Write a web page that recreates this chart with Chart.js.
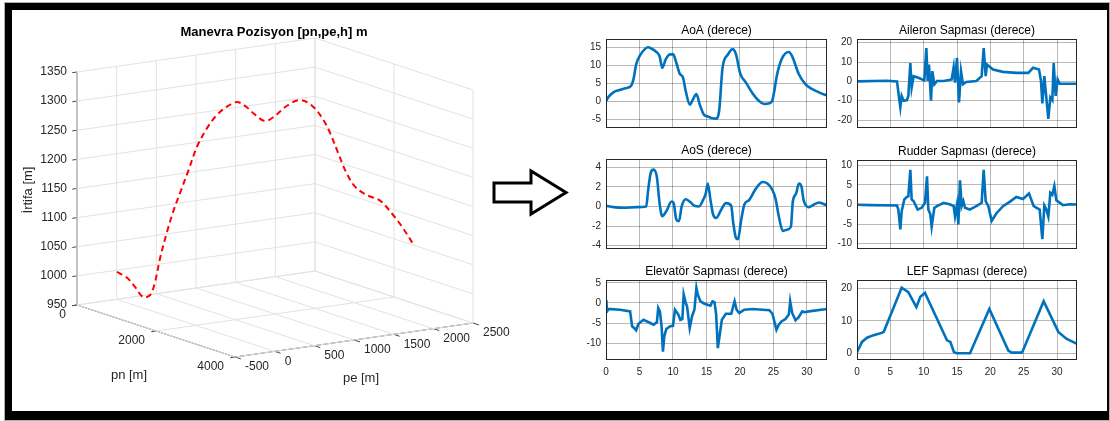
<!DOCTYPE html>
<html>
<head>
<meta charset="utf-8">
<script src="https://cdn.jsdelivr.net/npm/chart.js"></script>
<style>
  body{margin:0;background:#fff;width:1110px;height:421px;overflow:hidden;position:relative;}
  .cerceve{position:absolute;left:5px;top:3px;width:1104px;height:417px;box-sizing:border-box;
    border-style:solid;border-color:#000;border-width:7px 2px 9px 7px;box-shadow:0 0 0 1px #b0b0b0;}
  canvas{position:absolute;}
  svg{position:absolute;left:0;top:0;}
</style>
</head>
<body>
<div class="cerceve"></div>
<svg width="1110" height="421">
  <polygon points="494,183 531,183 531,171 566,192.5 531,214 531,202 494,202"
    fill="#fff" stroke="#000" stroke-width="3" stroke-linejoin="miter"/>
</svg>
<canvas id="c3d" width="520" height="411" style="left:0;top:0"></canvas>
<canvas id="aoa"></canvas>
<canvas id="ail"></canvas>
<canvas id="aos"></canvas>
<canvas id="rud"></canvas>
<canvas id="elv"></canvas>
<canvas id="lef"></canvas>
<script>
// ---- 3D manevra konumu ----
const pnData = [0,110,220,330,440,550,660,770,880,990,1100,1210,1320,1430,1540,1650,1760,1870,1980,2090,2200,2310,2420,2530,2640,2750,2860,2970,3080,3190,3300,3410,3520];
const peData = [4,76,122,168,201,210,218,251,272,306,352,410,482,553,637,695,742,813,885,955,1052,1162,1258,1330,1375,1422,1467,1526,1622,1732,1829,1912,1984];
const hData  = [997,988,974,958,963,988,1031,1078,1114,1149,1187,1231,1264,1288,1304,1312,1307,1293,1283,1293,1311,1321,1312,1292,1268,1235,1204,1180,1166,1157,1135,1111,1085];
const pnTicks = [0,2000,4000];
const peTicks = [-500,0,500,1000,1500,2000,2500];
const hTicks  = [950,1000,1050,1100,1150,1200,1250,1300,1350];

// ---- zaman serileri (s) ----
const aoaT = [0,0.4,1.1,1.9,2.9,3.7,4.1,4.5,5.1,5.8,6.3,6.8,7.6,8.0,8.4,8.9,9.5,10.0,10.5,11.0,11.5,11.9,12.5,13.0,13.5,14.0,14.6,15.2,15.7,16.45,16.9,17.4,18.2,18.9,19.4,20.05,20.9,21.9,22.9,23.6,24.4,24.85,25.6,26.3,27.3,27.8,28.8,29.8,30.8,31.8,33];
const aoaV = [0,1.3,2.5,3.1,3.65,4.2,6.1,10.2,12.8,14.5,15.0,14.6,13.6,12.5,9.3,11.6,13.0,13.1,10.7,7.7,6.6,2.9,-0.9,0.6,2.0,-0.9,-3.65,-4.2,-4.6,-4.8,-2.55,9.3,13.0,14.5,13.1,7.7,5.2,2.2,0,-0.73,-0.55,0.35,7.9,12.0,13.7,12.5,7.5,4.7,3.4,2.5,1.6];

const ailT = [0,4.5,6.0,6.3,6.5,6.7,7.0,7.5,7.7,8.0,8.2,8.5,9.2,10.1,10.4,10.6,10.8,11.1,11.3,11.6,12.0,13.0,14.2,14.5,14.7,15.0,15.3,15.6,15.9,16.4,17.9,18.7,19.0,19.3,19.5,20.4,21.9,23.9,25.7,26.4,27.3,27.6,27.8,28.1,28.3,28.7,29.0,29.3,29.5,29.8,30.1,30.4,33];
const ailV = [0,0.3,0,-8.3,-13.4,-7.5,-10,-9.7,-7.5,9.5,-3.2,2.7,1.9,0.5,17.2,0.2,8.7,-10,5.3,-1.5,0.2,0.2,1.0,7.3,-0.7,12.1,-10.9,5.3,-1.5,-0.3,0.2,2.7,17.2,2.7,8.7,6.1,4.9,4.4,4.4,7.0,6.1,0.2,-11.4,2.7,-4.9,-19.4,-8.3,-9.7,9.5,-7.5,1.0,-1.2,-1.2];

const aosT = [0,1.1,2.6,4.6,6.0,6.3,6.7,7.1,7.6,8.0,8.4,9.0,9.8,10.1,10.5,10.9,11.3,11.9,12.5,13.2,13.9,14.5,14.9,15.2,15.6,16.0,16.45,17.2,17.9,18.7,19.0,19.4,19.7,20.2,20.65,21.4,22.4,23.4,24.1,24.85,25.3,25.8,26.4,26.9,27.6,27.9,28.4,28.8,29.2,29.5,30.3,31.0,31.8,33];
const aosV = [0.07,-0.07,-0.13,-0.07,0,1.7,3.5,3.76,3.0,0.34,-1.0,-0.5,0.5,0.34,-1.34,-1.5,0,0.74,0.5,0.07,0,0.67,1.34,2.35,0.67,-0.84,-1.18,-0.34,0.34,0.07,-1.68,-3.2,-3.36,-1.34,0.17,0.67,1.85,2.5,2.35,1.68,0.84,-1.0,-2.5,-2.4,-2.1,0.5,1.34,2.35,2.0,0.67,-0.07,0.17,0.4,0.1];

const rudT = [0,2,6.0,6.2,6.5,6.7,7.1,7.5,7.7,8.0,8.2,8.5,9.1,9.7,10.2,10.5,10.7,11.0,11.2,11.6,12.0,13.0,14.0,14.5,14.7,15.0,15.2,15.45,15.7,15.95,16.2,16.9,17.9,18.7,19.0,19.3,19.7,20.2,20.9,21.9,22.9,23.9,24.9,25.8,26.5,27.4,27.8,28.1,28.4,28.7,29.0,29.3,29.6,29.9,30.9,31.9,33];
const rudV = [-0.08,-0.17,-0.25,-1.3,-6.4,-1.7,1.3,1.95,2.1,8.9,1.3,0.85,-1.3,-0.85,0.42,7.2,-1.3,-2.5,-5.7,-0.85,-0.42,0.42,0,-0.42,-3.0,0,-5.1,6.2,-0.42,0.85,-0.85,-1.3,-0.42,0.42,8.9,0.85,-0.42,-4.2,-2.3,-0.42,0.68,1.95,1.4,2.8,-0.42,-1.3,-8.9,-0.25,-1.3,-3.1,3.0,2.5,4.7,1.1,-0.17,0.08,0];

const elvT = [0,0.05,0.15,0.4,2.1,3.6,3.9,4.2,4.5,4.85,5.6,6.6,7.1,7.6,7.8,8.05,8.3,8.5,8.7,9.0,9.6,10.0,10.3,10.8,11.1,11.4,11.6,11.9,12.1,12.5,12.85,13.2,13.5,13.7,14.1,14.7,15.6,15.9,16.2,16.45,16.7,16.95,17.3,17.9,18.7,19.2,19.5,19.9,20.65,21.9,23.4,24.4,24.85,25.45,25.8,26.2,26.8,27.3,27.5,27.8,28.3,28.8,29.3,29.6,30.3,33];
const elvV = [0,0.7,-2.1,-1.5,-1.7,-2.1,-5.8,-6.25,-6.8,-5.2,-4.2,-5.0,-5.4,-4.8,-1.25,-2.1,-5.8,-12.1,-8.3,-6.5,-5.8,-5.7,-1.7,-2.9,-4.2,-4.0,2.1,0,-0.8,-6.25,-3.3,-1.7,3.75,2.1,0.4,-0.2,-0.7,0.4,0.2,-2.9,-11.25,-8.3,-4.2,-2.7,-2.7,0.4,-1.7,-2.5,-1.7,-1.5,-1.7,-1.8,-2.7,-6.7,-5.4,-4.6,-4.0,-2.9,0.4,-2.5,-4.3,-3.5,-2.1,-2.3,-2.1,-1.5];

const lefT = [0,0.75,1.5,2.5,3.7,4.0,6.7,7.7,8.9,9.5,10.2,11.0,13.5,14.0,14.55,15.0,16.95,19.85,22.7,23.2,24.7,24.9,28.0,30.2,31.4,33];
const lefV = [0.3,3.5,4.8,5.6,6.3,6.6,20.3,18.9,14.3,17.5,18.7,15.1,4.0,3.5,0.3,0,0,13.7,0.85,0.2,0.2,0.85,16.1,6.6,4.5,2.9];

const xTicks = [0,5,10,15,20,25,30];

Chart.defaults.font.family = "'Liberation Sans', Arial, sans-serif";
Chart.defaults.color = '#262626';
Chart.defaults.animation = false;

// 3D kutu izdusumu (sayfa pikseli)
const O3 = {x: 77, y: 305};
const V_PN = {x: 158, y: 52};
const V_PE = {x: 238, y: -34};
const V_H = {x: 0, y: -233};
const pnLim = [0, 4000], peLim = [-500, 2500], hLim = [950, 1350];

function P(pn, pe, h){
    let a = (pn - pnLim[0]) / (pnLim[1] - pnLim[0]);
    let b = (pe - peLim[0]) / (peLim[1] - peLim[0]);
    let c = (h - hLim[0]) / (hLim[1] - hLim[0]);
    return {x: O3.x + a*V_PN.x + b*V_PE.x + c*V_H.x,
            y: O3.y + a*V_PN.y + b*V_PE.y + c*V_H.y};
}

function cizgi(p1, p2, renk, kalinlik){
    return {data: [p1, p2], showLine: true, borderColor: renk, borderWidth: kalinlik,
            pointRadius: 0, clip: false};
}

let ds3 = [];
// yorunge
let yol = [];
for (let i = 0; i < pnData.length; i++) yol.push(P(pnData[i], peData[i], hData[i]));
ds3.push({data: yol, showLine: true, borderColor: '#ff0000', borderWidth: 2, borderDash: [6, 4],
          pointRadius: 0, tension: 0.35, clip: false});

const gri = '#e2e2e2';
// arka duvar pn=0
peTicks.forEach(v => ds3.push(cizgi(P(0, v, hLim[0]), P(0, v, hLim[1]), gri, 1)));
hTicks.forEach(v => ds3.push(cizgi(P(0, peLim[0], v), P(0, peLim[1], v), gri, 1)));
// yan duvar pe=2500
pnTicks.forEach(v => ds3.push(cizgi(P(v, peLim[1], hLim[0]), P(v, peLim[1], hLim[1]), gri, 1)));
hTicks.forEach(v => ds3.push(cizgi(P(pnLim[0], peLim[1], v), P(pnLim[1], peLim[1], v), gri, 1)));
// taban h=950
peTicks.forEach(v => ds3.push(cizgi(P(pnLim[0], v, hLim[0]), P(pnLim[1], v, hLim[0]), gri, 1)));
pnTicks.forEach(v => ds3.push(cizgi(P(v, peLim[0], hLim[0]), P(v, peLim[1], hLim[0]), gri, 1)));
// eksenler
const koyu = '#4a4a4a';
ds3.push(cizgi(P(0, peLim[0], hLim[0]), P(0, peLim[0], hLim[1]), koyu, 1));
ds3.push(cizgi(P(pnLim[0], peLim[0], hLim[0]), P(pnLim[1], peLim[0], hLim[0]), koyu, 1));
ds3.push(cizgi(P(pnLim[1], peLim[0], hLim[0]), P(pnLim[1], peLim[1], hLim[0]), koyu, 1));
hTicks.forEach(v => ds3.push(cizgi(P(0, peLim[0], v), P(0, peLim[0] - 60, v), koyu, 1)));
pnTicks.forEach(v => ds3.push(cizgi(P(v, peLim[0], hLim[0]), P(v, peLim[0] - 60, hLim[0]), koyu, 1)));
peTicks.forEach(v => ds3.push(cizgi(P(pnLim[1], v, hLim[0]), P(pnLim[1] + 150, v, hLim[0]), koyu, 1)));

const yazi3d = {
    id: 'yazi3d',
    afterDraw(chart){
        const ctx = chart.ctx, sx = chart.scales.x, sy = chart.scales.y;
        const px = p => ({x: sx.getPixelForValue(p.x), y: sy.getPixelForValue(p.y)});
        ctx.save();
        ctx.fillStyle = '#262626';
        ctx.font = "12px 'Liberation Sans', Arial";
        ctx.textBaseline = 'middle';
        ctx.textAlign = 'right';
        hTicks.forEach(v => { let q = px(P(0, peLim[0], v)); ctx.fillText(v, q.x - 10, q.y); });
        pnTicks.forEach(v => { let q = px(P(v, peLim[0], hLim[0])); ctx.fillText(v, q.x - 11, q.y + 10); });
        ctx.textAlign = 'left';
        peTicks.forEach(v => { let q = px(P(pnLim[1], v, hLim[0])); ctx.fillText(v, q.x + 10, q.y + 10); });
        ctx.textAlign = 'center';
        ctx.font = "13px 'Liberation Sans', Arial";
        ctx.fillText('pn [m]', 129, 375);
        ctx.fillText('pe [m]', 361, 378);
        ctx.save();
        ctx.translate(28, 190);
        ctx.rotate(-Math.PI / 2);
        ctx.fillText('İrtifa [m]', 0, 0);
        ctx.restore();
        ctx.fillStyle = '#000';
        ctx.font = "bold 13px 'Liberation Sans', Arial";
        ctx.fillText('Manevra Pozisyon [pn,pe,h] m', 274, 32);
        ctx.restore();
    }
};

new Chart(document.getElementById('c3d'), {
    type: 'scatter',
    data: {datasets: ds3},
    options: {
        responsive: false,
        layout: {padding: 0},
        plugins: {legend: {display: false}, tooltip: {enabled: false}},
        scales: {
            x: {type: 'linear', min: 0, max: 520, display: false},
            y: {type: 'linear', min: 0, max: 411, reverse: true, display: false}
        }
    },
    plugins: [yazi3d]
});

// ---- alt grafikler ----
const kutuCiz = {
    id: 'kutuCiz',
    afterDraw(chart, args, opts){
        const a = chart.chartArea, ctx = chart.ctx;
        ctx.save();
        ctx.strokeStyle = '#262626';
        ctx.lineWidth = 1;
        ctx.strokeRect(Math.round(a.left) + 0.5, Math.round(a.top) + 0.5,
                       Math.round(a.right - a.left) - 1, Math.round(a.bottom - a.top) - 1);
        ctx.fillStyle = '#000';
        ctx.font = "12px 'Liberation Sans', Arial";
        ctx.textAlign = 'center';
        ctx.textBaseline = 'middle';
        ctx.fillText(opts.baslik, (a.left + a.right) / 2, a.top - 8.5);
        ctx.restore();
    }
};

function altGrafik(id, baslik, tArr, vArr, yTicks, yMin, yMax, kutu, xGoster, yumusak){
    const YW = 40, TP = 22, BP = xGoster ? 22 : 10;
    let cv = document.getElementById(id);
    cv.width = (kutu[2] - kutu[0]) + YW + 4;
    cv.height = (kutu[3] - kutu[1]) + TP + BP;
    cv.style.left = (kutu[0] - YW) + 'px';
    cv.style.top = (kutu[1] - TP) + 'px';
    let noktalar = tArr.map((t, i) => ({x: t, y: vArr[i]}));
    new Chart(cv, {
        type: 'line',
        data: {datasets: [{
            data: noktalar, borderColor: '#0072BD', borderWidth: 2.6, pointRadius: 0,
            tension: 0, cubicInterpolationMode: yumusak ? 'monotone' : 'default'
        }]},
        options: {
            responsive: false,
            layout: {padding: {left: 0, right: 4, top: TP, bottom: xGoster ? 0 : 10}},
            plugins: {legend: {display: false}, tooltip: {enabled: false}, kutuCiz: {baslik: baslik}},
            scales: {
                x: {
                    type: 'linear', min: 0, max: 33,
                    afterBuildTicks: s => { s.ticks = xTicks.map(v => ({value: v})); },
                    afterFit: s => { s.height = xGoster ? 22 : 0; },
                    grid: {color: 'rgba(0,0,0,0.28)', drawTicks: false},
                    border: {display: false},
                    ticks: {display: xGoster, padding: 6, font: {size: 10}, maxRotation: 0}
                },
                y: {
                    type: 'linear', min: yMin, max: yMax,
                    afterBuildTicks: s => { s.ticks = yTicks.map(v => ({value: v})); },
                    afterFit: s => { s.width = YW; },
                    grid: {color: 'rgba(0,0,0,0.28)', drawTicks: false},
                    border: {display: false},
                    ticks: {padding: 5, font: {size: 10}}
                }
            }
        },
        plugins: [kutuCiz]
    });
}

altGrafik('aoa', 'AoA (derece)', aoaT, aoaV, [-5,0,5,10,15], -7.4, 17.3, [606, 39, 827, 129], false, true);
altGrafik('ail', 'Aileron Sapması (derece)', ailT, ailV, [-20,-10,0,10,20], -24.1, 21.9, [857, 39, 1077, 129], false, false);
altGrafik('aos', 'AoS (derece)', aosT, aosV, [-4,-2,0,2,4], -4.35, 4.85, [606, 159, 827, 250], false, true);
altGrafik('rud', 'Rudder Sapması (derece)', rudT, rudV, [-10,-5,0,5,10], -11.4, 11.4, [857, 160, 1077, 250], false, false);
altGrafik('elv', 'Elevatör Sapması (derece)', elvT, elvV, [-10,-5,0,5], -14.2, 5.7, [606, 280, 827, 360], true, false);
altGrafik('lef', 'LEF Sapması (derece)', lefT, lefV, [0,10,20], -2.1, 22.7, [857, 280, 1077, 360], true, false);
</script>
</body>
</html>
